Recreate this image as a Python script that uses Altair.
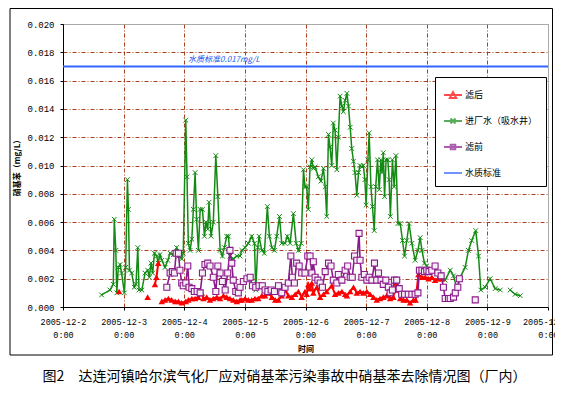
import altair as alt
import pandas as pd

SERIES = ["滤后", "进厂水（吸水井）", "滤前", "水质标准"]
COLORS = ["#ff0000", "#138a13", "#8b1a8b", "#3366ff"]

# hours since 2005-12-2 0:00, values in mg/L
green_t1 = [15.3, 18.6, 19.9, 20.3, 20.9, 21.3, 21.9, 22.6, 23.2, 24.3, 24.8, 25.5, 25.9, 26.3, 27.2, 28.2, 28.9, 29.6, 30.1, 31.2,
            32.5, 33.5, 34.2, 34.8, 35.5, 36.2, 37.1, 37.7, 38.4, 39.1, 40.4, 41.5, 42.4, 43.7, 45.0, 45.9, 47.0, 47.6, 48.6, 49.1,
            49.6, 50.3, 51.0, 51.6, 52.3, 52.9, 53.6, 54.3, 55.2, 56.0, 56.6, 57.3, 57.8, 58.6, 59.5, 60.5, 61.3, 62.2, 63.1, 63.9,
            64.8, 65.5, 66.1, 67.4, 68.8, 70.1, 70.8, 72.1, 73.4, 74.7, 75.8, 76.3, 77.1, 77.6, 78.7, 79.7, 80.9, 81.7, 82.7, 83.7,
            84.6, 85.7, 86.6, 87.9, 88.8, 89.9, 91.2, 92.3, 93.2, 94.3, 95.2, 95.8, 96.5, 97.1, 97.8, 98.5, 99.1, 99.8, 101.1, 102.1,
            103.1, 103.8, 104.4, 105.1, 105.7, 106.4, 107.0, 107.7, 108.4, 109.0, 109.7, 110.4, 111.0, 111.7, 112.4, 113.0, 113.7, 114.3, 115.0, 115.6,
            116.3, 117.0, 117.6, 118.3, 118.9, 119.5, 120.0, 120.7, 121.2, 121.9, 122.5, 123.2, 123.8, 124.5, 125.2, 125.8, 126.3, 126.8, 127.3, 127.9,
            128.6, 129.1, 129.6, 130.4, 131.1, 131.8, 132.6, 133.5, 134.4, 135.2, 136.1, 137.0, 138.1, 139.4, 140.5, 141.4, 142.1, 143.1, 144.0, 145.3,
            146.6, 148.0, 149.3, 151.3, 153.3, 154.6, 155.9, 157.2, 159.2, 160.5, 161.8, 163.4, 164.5, 165.4, 167.1, 169.1, 171.1, 173.1]
green_v1 = [0.00085, 0.0012, 0.0016, 0.0062, 0.0040, 0.0010, 0.0028, 0.0030, 0.0024, 0.0010, 0.0028, 0.0090, 0.0069, 0.0026, 0.0024, 0.0014, 0.0016, 0.0042, 0.0012, 0.0012,
            0.0024, 0.0026, 0.0021, 0.0031, 0.0024, 0.0038, 0.0036, 0.0031, 0.0037, 0.0033, 0.0028, 0.0033, 0.0038, 0.0037, 0.0042, 0.0036, 0.0034, 0.0038, 0.0132, 0.0092,
            0.0045, 0.0040, 0.0048, 0.0069, 0.0095, 0.0062, 0.0040, 0.0069, 0.0069, 0.0050, 0.0060, 0.0055, 0.0074, 0.0050, 0.0060, 0.0107, 0.0078, 0.0040, 0.0036, 0.0042,
            0.0050, 0.0050, 0.0036, 0.0034, 0.0036, 0.0036, 0.0040, 0.0042, 0.0045, 0.0050, 0.0045, 0.0012, 0.0042, 0.0050, 0.0040, 0.0038, 0.0071, 0.0050, 0.0042, 0.0040,
            0.0050, 0.0064, 0.0045, 0.0045, 0.0050, 0.0045, 0.0066, 0.0045, 0.0040, 0.0045, 0.0097, 0.0085, 0.0085, 0.0069, 0.0099, 0.0104, 0.0098, 0.0099, 0.0092, 0.0089,
            0.0098, 0.0085, 0.0064, 0.0122, 0.0113, 0.0100, 0.0130, 0.0125, 0.0097, 0.0120, 0.0149, 0.0142, 0.0138, 0.0146, 0.0151, 0.0142, 0.0127, 0.0112, 0.0103, 0.0095,
            0.0079, 0.0095, 0.0100, 0.0099, 0.0100, 0.0090, 0.0072, 0.0104, 0.0123, 0.0085, 0.0071, 0.0054, 0.0085, 0.0104, 0.0083, 0.0104, 0.0095, 0.0109, 0.0078, 0.0104,
            0.0104, 0.0090, 0.0064, 0.0104, 0.0085, 0.0107, 0.0059, 0.0059, 0.0047, 0.0036, 0.0047, 0.0059, 0.0045, 0.0033, 0.0040, 0.0049, 0.0040, 0.0031, 0.0029, 0.0026,
            0.0025, 0.0024, 0.0023, 0.0019, 0.0026, 0.0022, 0.0013, 0.0021, 0.0028, 0.0040, 0.0047, 0.0054, 0.0036, 0.0012, 0.0014, 0.0020, 0.0013, 0.0012]
green_t2 = [177.0, 179.0, 181.0]
green_v2 = [0.0012, 0.0009, 0.0008]

purple_t1 = [41.1, 42.4, 43.3, 44.1, 44.8, 45.7, 46.3, 47.0, 47.6, 48.6, 49.4, 49.9, 51.0, 52.0, 53.1, 54.3, 55.2, 56.2, 57.3, 58.2,
             59.5, 60.5, 61.3, 62.2, 63.1, 64.2, 65.2, 66.1, 66.8, 67.4, 68.4, 69.4, 70.1, 71.4, 72.8, 74.1, 75.0, 76.3, 77.6, 78.9,
             80.0, 81.1, 82.4, 83.7, 85.3, 86.6, 87.9, 89.2, 90.2, 90.8, 91.6, 92.5, 93.5, 94.5, 95.8, 96.9, 97.8, 98.5, 99.1, 99.8,
             100.9, 101.8, 102.7, 103.8, 105.1, 106.1, 107.0, 108.4, 109.0, 110.4, 111.7, 112.7, 113.7, 114.5, 115.4, 116.3, 117.2, 117.6, 118.3, 119.3,
             120.3, 121.2, 122.3, 123.3, 124.2, 124.9, 125.9, 126.8, 127.8, 128.8, 129.5, 130.4, 131.2, 132.1, 133.1, 134.1, 135.2, 136.7, 138.1, 139.4,
             140.5, 141.1, 142.1, 143.1, 144.0, 144.9, 146.0, 147.3, 148.4, 149.7, 150.6, 151.3, 152.6, 153.3, 154.6, 155.3, 156.3, 156.9]
purple_v1 = [0.0014, 0.0024, 0.0025, 0.0024, 0.0038, 0.0038, 0.0026, 0.0017, 0.0015, 0.0017, 0.0029, 0.0014, 0.0013, 0.0011, 0.0011, 0.0010, 0.0024, 0.0030, 0.0031, 0.0029,
             0.0021, 0.0011, 0.0029, 0.0024, 0.0018, 0.0012, 0.0024, 0.0040, 0.0031, 0.0019, 0.0011, 0.0010, 0.0014, 0.0018, 0.0020, 0.0021, 0.0015, 0.0014, 0.0015, 0.0015,
             0.0012, 0.0011, 0.0012, 0.0011, 0.0015, 0.0010, 0.0014, 0.0017, 0.0036, 0.0021, 0.0017, 0.0031, 0.0029, 0.0024, 0.0024, 0.0036, 0.0036, 0.0024, 0.0032, 0.0021,
             0.0019, 0.0017, 0.0014, 0.0025, 0.0031, 0.0029, 0.0019, 0.0017, 0.0023, 0.0019, 0.0026, 0.0029, 0.0021, 0.0021, 0.0036, 0.0033, 0.0052, 0.0033, 0.0021, 0.0023,
             0.0019, 0.0021, 0.0019, 0.0031, 0.0019, 0.0024, 0.0019, 0.0016, 0.0019, 0.0014, 0.0010, 0.0012, 0.0019, 0.0019, 0.0013, 0.0009, 0.0009, 0.0009, 0.0009, 0.0009,
             0.0010, 0.0026, 0.0026, 0.0025, 0.0026, 0.0025, 0.0026, 0.0029, 0.0024, 0.0022, 0.0014, 0.0006, 0.0006, 0.0006, 0.0007, 0.0010, 0.0014, 0.0020]
purple_t2 = [163.2]
purple_v2 = [0.0005]

red_t1 = [22.2]
red_v1 = [0.0011]
red_t2 = [33.5]
red_v2 = [0.0007]
red_t3 = [36.4, 37.0, 37.7]
red_v3 = [0.0016, 0.0021, 0.0031]
red_t4 = [39.1, 40.4, 41.7, 43.0, 44.4, 45.7, 47.0, 48.6, 49.6, 51.0, 52.3, 53.6, 54.9, 55.6, 56.9, 58.2, 59.5, 60.9, 62.2, 63.5,
          64.8, 66.1, 67.4, 68.8, 70.1, 70.8, 72.1, 73.4, 74.7, 76.0, 77.3, 78.7, 80.0, 81.3, 82.7, 84.0, 85.3, 86.6, 87.9, 89.2,
          90.6, 91.9, 93.2, 94.5, 95.8, 96.5, 97.1, 97.8, 98.5, 99.1, 100.5, 101.8, 103.1, 104.4, 106.4, 107.7, 109.0, 110.4, 111.7, 112.4,
          113.7, 115.0, 116.3, 117.6, 118.9, 120.3, 121.6, 122.9, 124.2, 125.5, 126.8, 128.2, 128.8, 129.5, 130.8, 131.8, 132.7, 133.5, 134.8, 136.1,
          137.4, 138.7, 139.6, 140.7, 142.1, 143.4, 144.7, 146.0, 147.3, 148.4, 150.0]
red_v4 = [0.0004, 0.0005, 0.0006, 0.0005, 0.0004, 0.0004, 0.0003, 0.0004, 0.0005, 0.0006, 0.0006, 0.0007, 0.0010, 0.0006, 0.0007, 0.0005, 0.0006, 0.0007, 0.0006, 0.0008,
          0.0007, 0.0006, 0.0005, 0.0004, 0.0005, 0.0005, 0.0006, 0.0005, 0.0005, 0.0006, 0.0006, 0.0008, 0.0008, 0.0010, 0.0007, 0.0005, 0.0005, 0.0008, 0.0012, 0.0008,
          0.0007, 0.0009, 0.0011, 0.0007, 0.0011, 0.0009, 0.0016, 0.0013, 0.0017, 0.0010, 0.0014, 0.0007, 0.0009, 0.0011, 0.0015, 0.0009, 0.0010, 0.0011, 0.0009, 0.0008,
          0.0011, 0.0014, 0.0010, 0.0011, 0.0010, 0.0011, 0.0009, 0.0007, 0.0005, 0.0006, 0.0007, 0.0008, 0.0010, 0.0006, 0.0007, 0.0017, 0.0012, 0.0006, 0.0005, 0.0005,
          0.0003, 0.0005, 0.0005, 0.0023, 0.0021, 0.0021, 0.0020, 0.0021, 0.0019, 0.0020, 0.0020]

std_t = [0, 192]
std_v = [0.017, 0.017]
std_label = "水质标准0.017mg/L"
std_label_t = [49.5]
std_label_v = [0.01746]

x_ticks = [0, 24, 48, 72, 96, 120, 144, 168, 192]
y_ticks = [0, 0.002, 0.004, 0.006, 0.008, 0.010, 0.012, 0.014, 0.016, 0.018, 0.020]
caption = "图2　达连河镇哈尔滨气化厂应对硝基苯污染事故中硝基苯去除情况图（厂内）"

# legend symbols: a short line with the series marker on it
LEGEND_SHAPES = ["M-1,0H1M-0.35,0.32L0,-0.32L0.35,0.32Z",
                 "M-1,0H1M-0.28,-0.28L0.28,0.28M-0.28,0.28L0.28,-0.28",
                 "M-1,0H1M-0.25,-0.25H0.25V0.25H-0.25Z",
                 "M-1,0H1"]


def build(name, segs):
    parts = []
    for k, (ts, vs) in enumerate(segs):
        d = pd.DataFrame({"t": ts, "v": vs})
        d["seg"] = k
        d["series"] = name
        parts.append(d)
    return pd.concat(parts, ignore_index=True)


red = build(SERIES[0], [(red_t1, red_v1), (red_t2, red_v2), (red_t3, red_v3), (red_t4, red_v4)])
green = build(SERIES[1], [(green_t1, green_v1), (green_t2, green_v2)])
purple = build(SERIES[2], [(purple_t1, purple_v1), (purple_t2, purple_v2)])
std = build(SERIES[3], [(std_t, std_v)])
lab = pd.DataFrame({"t": std_label_t, "v": std_label_v, "txt": [std_label]})
# one row per series for the legend key only (lies outside the clipped plot)
keyrows = pd.DataFrame({"t": [-50.0] * 4, "v": [-1.0] * 4, "series": SERIES})

GRID = "#a8401f"
x = alt.X("t:Q", scale=alt.Scale(domain=[0, 192], nice=False, zero=False),
          axis=alt.Axis(values=x_ticks, title="时间",
                        labelExpr="['2005-12-' + (2 + datum.value / 24), '0:00']",
                        labelFont="Liberation Mono", labelFontSize=8.5, labelColor="black",
                        labelLineHeight=13, labelPadding=7, labelFlush=False, labelOverlap=False,
                        titleFont="Noto Sans CJK SC", titleFontSize=8, titleFontWeight="bold",
                        titleColor="black", titlePadding=7,
                        domainColor="black", tickColor="black", tickSize=3,
                        grid=True,
                        gridColor={"condition": {"test": "datum.value >= 192", "value": "#999999"}, "value": GRID},
                        gridDash={"condition": {"test": "datum.value >= 192", "value": [1, 0]}, "value": [4, 2, 1, 2]}))
y = alt.Y("v:Q", scale=alt.Scale(domain=[0, 0.02], nice=False),
          axis=alt.Axis(values=y_ticks, format=".3f", title="硝基苯（mg/L）",
                        labelFont="Liberation Mono", labelFontSize=9, labelColor="black", labelPadding=6,
                        titleFont="Noto Sans CJK SC", titleFontSize=8, titleFontWeight="bold",
                        titleColor="black", titlePadding=5,
                        domainColor="black", tickColor="black", tickSize=3,
                        grid=True,
                        gridColor={"condition": {"test": "datum.value >= 0.0199", "value": "#999999"}, "value": GRID},
                        gridDash={"condition": {"test": "datum.value >= 0.0199", "value": [1, 0]}, "value": [4, 2, 1, 2]}))

leg = alt.Legend(title=None, orient="none", legendX=372, legendY=53, direction="vertical",
                 fillColor="white", strokeColor="black", padding=8, rowPadding=9,
                 symbolSize=324, symbolStrokeWidth=2, labelOffset=2,
                 labelFont="Noto Sans CJK SC", labelFontSize=9, labelColor="black")
color = alt.Color("series:N", scale=alt.Scale(domain=SERIES, range=COLORS), legend=leg)
shape = alt.Shape("series:N", scale=alt.Scale(domain=SERIES, range=LEGEND_SHAPES), legend=leg)

frame = alt.Chart(pd.DataFrame({"k": [0]})).mark_rect(fillOpacity=0, stroke="black", strokeWidth=1).encode(
    x=alt.value(-53), x2=alt.value(489.5), y=alt.value(-15.5), y2=alt.value(331))

key = alt.Chart(keyrows).mark_point(filled=False, clip=True, strokeWidth=2).encode(
    x=x, y=y, color=color, shape=shape)

std_line = alt.Chart(std).mark_line(strokeWidth=2).encode(x=x, y=y, color=color, detail="seg:N")
std_text = alt.Chart(lab).mark_text(align="left", baseline="middle", font="Noto Sans CJK SC",
                                    fontSize=8, color="#2255ee", fontStyle="italic").encode(x=x, y=y, text="txt:N")

g_line = alt.Chart(green).mark_line(strokeWidth=1.5).encode(x=x, y=y, color=color, detail="seg:N")
g_pts = alt.Chart(green).mark_point(shape="M-1,-1L1,1M-1,1L1,-1", filled=False, size=22, strokeWidth=1,
                                    color=COLORS[1], opacity=1).encode(x=x, y=y)
r_line = alt.Chart(red).mark_line(strokeWidth=2).encode(x=x, y=y, color=color, detail="seg:N")
r_pts = alt.Chart(red).mark_point(shape="triangle-up", filled=True, size=42, color=COLORS[0], opacity=1).encode(x=x, y=y)
p_line = alt.Chart(purple).mark_line(strokeWidth=1.6).encode(x=x, y=y, color=color, detail="seg:N")
p_pts = alt.Chart(purple).mark_point(shape="square", filled=True, size=36, fill="#f6eef6", stroke=COLORS[2],
                                     strokeWidth=1.1, opacity=1).encode(x=x, y=y)

chart = alt.layer(frame, key, std_line, std_text, g_line, g_pts, r_line, r_pts, p_line, p_pts).properties(
    width=485, height=283,
    autosize=alt.AutoSizeParams(type="none"),
    padding={"left": 55, "top": 16, "right": 7, "bottom": 83},
    title=alt.Title(caption, orient="bottom", anchor="middle", font="Noto Sans CJK SC", fontSize=14,
                    fontWeight="normal", color="black", offset=14, dx=-21),
).configure_view(stroke="#999999", strokeWidth=1).configure(background="white")

chart.save("out.html", embed_options={"renderer": "svg", "actions": False})
